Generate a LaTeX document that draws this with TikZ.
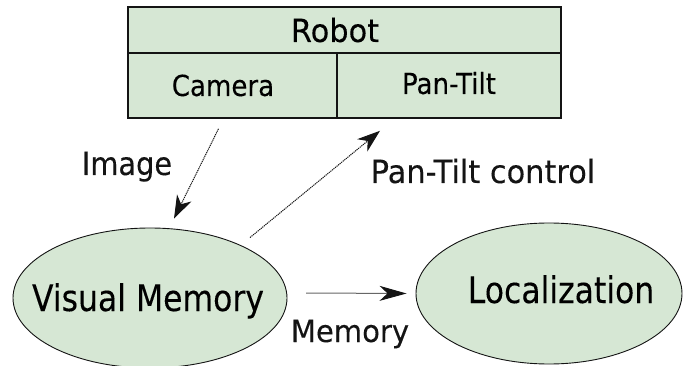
\documentclass[tikz,border=0pt]{standalone}
\usepackage{fontspec}
\setmainfont{DejaVu Sans}
\newfontfamily\fwide[FakeStretch=0.95,FakeBold=0.15]{DejaVu Sans}
\newfontfamily\fmid[FakeStretch=0.9,FakeBold=0.15]{DejaVu Sans}
\newfontfamily\fnarrow[FakeStretch=0.86,FakeBold=0.15]{DejaVu Sans}
\usetikzlibrary{shapes.geometric,arrows.meta}
\definecolor{boxfill}{RGB}{214,231,212}
\definecolor{ink}{RGB}{20,20,20}
\tikzset{
  part/.style={draw=ink, line width=1.6pt, fill=boxfill, rectangle, inner sep=0pt},
  module/.style={draw=ink, line width=0.9pt, fill=boxfill, ellipse, inner sep=0pt},
  flow/.style={draw=ink, line width=1pt, dash pattern=on 1.2pt off 0.8pt,
    -{Stealth[length=23pt,width=16pt,inset=7pt]}},
  longhead/.style={-{Stealth[length=27pt,width=15pt,inset=8pt]}},
  tag/.style={anchor=base, inner sep=0pt, text=ink}
}
\begin{document}
\begin{tikzpicture}[x=1pt,y=-1pt]
\useasboundingbox (0,0) rectangle (683,366);

% robot block: title row and two sub-units (zero-width text boxes, offset by a kern)
\node[part, minimum width=433pt, minimum height=46pt, text height=26pt, text depth=2pt]
  (robot) at (344.5,30) {\makebox[0pt]{\fwide\fontsize{32}{36}\selectfont Robot\kern19pt}};
\node[part, minimum width=209pt, minimum height=65pt, text height=23pt, text depth=2pt]
  (cam) at (232.5,85.5) {\makebox[0pt]{\fmid\fontsize{29}{32}\selectfont Camera\kern19pt}};
\node[part, minimum width=224pt, minimum height=65pt, text height=21pt, text depth=4pt]
  (pt) at (449,85.5) {\makebox[0pt]{\fmid\fontsize{29}{32}\selectfont Pan-Tilt}};

% software modules (text boxes kept zero-width so the ellipse size is fixed)
\node[module, minimum width=274pt, minimum height=140pt, text height=30pt, text depth=4pt]
  (vm) at (150,298) {\makebox[0pt]{\fnarrow\fontsize{36.6}{40}\selectfont Visual Memory\kern4pt}};
\node[module, minimum width=266pt, minimum height=141pt, text height=26pt, text depth=7pt]
  (loc) at (549,293.5) {\makebox[0pt]{\fnarrow\fontsize{36.6}{40}\selectfont\kern24pt Localization}};

% data flows
\draw[flow] ([shift={(-14,10)}]cam.south) -- ([shift={(24,-9)}]vm.north);
\draw[flow] ([shift={(100,10)}]vm.north) -- ([shift={(-69,12)}]pt.south);
\draw[flow, longhead] ([shift={(19,-5)}]vm.east) -- ([shift={(-9,0)}]loc.west);

% flow labels
\node[tag] (limg) at (127,175) {\fmid\fontsize{32}{36}\selectfont Image};
\node[tag] (lptc) at (483,183) {\fwide\fontsize{32}{36}\selectfont Pan-Tilt control};
\node[tag] (lmem) at (350,342) {\fwide\fontsize{30.6}{34}\selectfont Memory};
\end{tikzpicture}
\end{document}
